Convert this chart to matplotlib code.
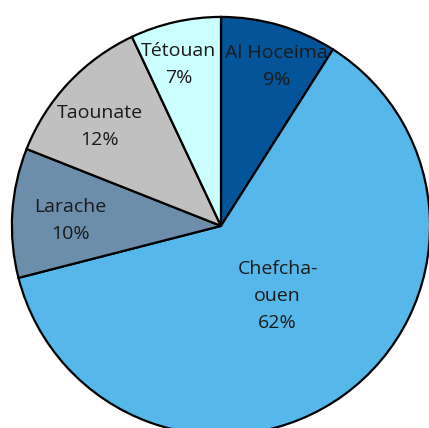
import matplotlib.pyplot as plt
import numpy as np

regions = ['Al Hoceima', 'Chefchaouen', 'Larache', 'Taounate', 'Tétouan']
shares = [9, 62, 10, 12, 7]
label_text = ['Al Hoceima\n9%', 'Chefcha-\nouen\n62%', 'Larache\n10%', 'Taounate\n12%', 'Tétouan\n7%']
colors = ['#04549A', '#56B8EA', '#6C8EAA', '#C0C0C0', '#CCFFFF']
# how far out each label sits (fraction of radius)
label_r = [0.81, 0.43, 0.72, 0.75, 0.80]
label_shift = [-3, 3, 1.5, 4, 2]  # degrees, nudge from wedge middle

plt.rcParams['font.family'] = ['Open Sans', 'DejaVu Sans']

fig = plt.figure(figsize=(4.29, 4.28), dpi=100)
ax = fig.add_axes([0, 0, 1, 1])

wedges, _ = ax.pie(shares, colors=colors, startangle=90, counterclock=False,
                   radius=1.0, wedgeprops=dict(edgecolor='black', linewidth=1.6))

for w, txt, r, s in zip(wedges, label_text, label_r, label_shift):
    mid = np.deg2rad((w.theta1 + w.theta2) / 2 + s)
    ax.text(r * np.cos(mid), r * np.sin(mid), txt, ha='center', va='center',
            fontsize=14, color='#1a1a1a', linespacing=1.65)

ax.set_xlim(-1.057, 0.995)
ax.set_ylim(-0.967, 1.081)
ax.set_aspect('auto')
ax.axis('off')

fig.savefig('out.png', dpi=100)
